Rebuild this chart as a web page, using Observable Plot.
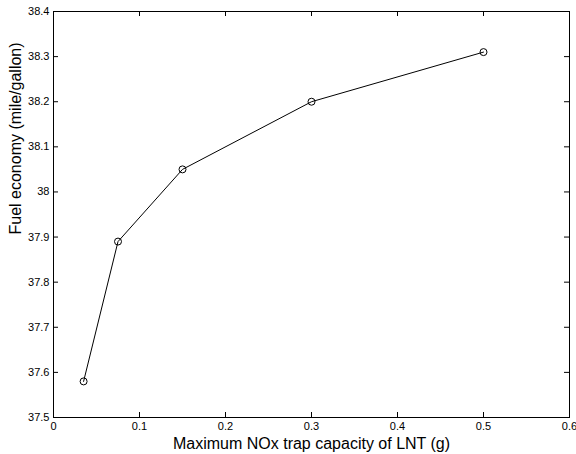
<!DOCTYPE html>
<html>
<head>
<meta charset="utf-8">
<script src="https://cdn.jsdelivr.net/npm/d3@7"></script>
<script src="https://cdn.jsdelivr.net/npm/@observablehq/plot@0.6"></script>
<style>
  html, body { margin: 0; padding: 0; background: #fff; }
  #chart svg { display: block; }
</style>
</head>
<body>
<div id="chart"></div>
<script>
const capacity = [0.035, 0.075, 0.15, 0.3, 0.5];
const economy = [37.58, 37.89, 38.05, 38.2, 38.31];
const xTicks = [0, 0.1, 0.2, 0.3, 0.4, 0.5, 0.6];
const yTicks = [37.5, 37.6, 37.7, 37.8, 37.9, 38, 38.1, 38.2, 38.3, 38.4];
const xLabel = "Maximum NOx trap capacity of LNT (g)";
const yLabel = "Fuel economy (mile/gallon)";

const data = capacity.map((c, i) => ({c, e: economy[i]}));

const W = 576, H = 454;
const mL = 53, mR = 7, mT = 11, mB = 37;
const innerW = W - mL - mR, innerH = H - mT - mB;
const tk = 5;

const chart = Plot.plot({
  width: W,
  height: H,
  marginLeft: mL,
  marginRight: mR,
  marginTop: mT,
  marginBottom: mB,
  style: {fontFamily: "'Liberation Sans', Arial, sans-serif", fontSize: "11px", color: "#000", background: "#fff", overflow: "visible"},
  x: {domain: [0, 0.6]},
  y: {domain: [37.5, 38.4]},
  marks: [
    Plot.frame({stroke: "#000", strokeWidth: 1}),
    Plot.ruleX(xTicks, {insetTop: innerH - tk, stroke: "#000"}),
    Plot.ruleX(xTicks, {insetBottom: innerH - tk, stroke: "#000"}),
    Plot.ruleY(yTicks, {insetRight: innerW - tk, stroke: "#000"}),
    Plot.ruleY(yTicks, {insetLeft: innerW - tk, stroke: "#000"}),
    Plot.axisX(xTicks, {tickSize: 0, tickPadding: 5, tickFormat: d => String(d), label: null, fontSize: 11}),
    Plot.axisY(yTicks, {tickSize: 0, tickPadding: 4, tickFormat: d => String(d), label: null, fontSize: 11}),
    Plot.line(data, {x: "c", y: "e", stroke: "#000", strokeWidth: 1}),
    Plot.dot(data, {x: "c", y: "e", r: 3.5, stroke: "#000", fill: "none", strokeWidth: 1}),
    Plot.text([xLabel], {frameAnchor: "bottom", lineAnchor: "middle", dy: 26, fontSize: 16, text: d => d}),
    Plot.text([yLabel], {frameAnchor: "left", lineAnchor: "middle", dx: -38, dy: 20, rotate: -90, fontSize: 16, text: d => d})
  ]
});
document.getElementById("chart").appendChild(chart);
</script>
</body>
</html>
